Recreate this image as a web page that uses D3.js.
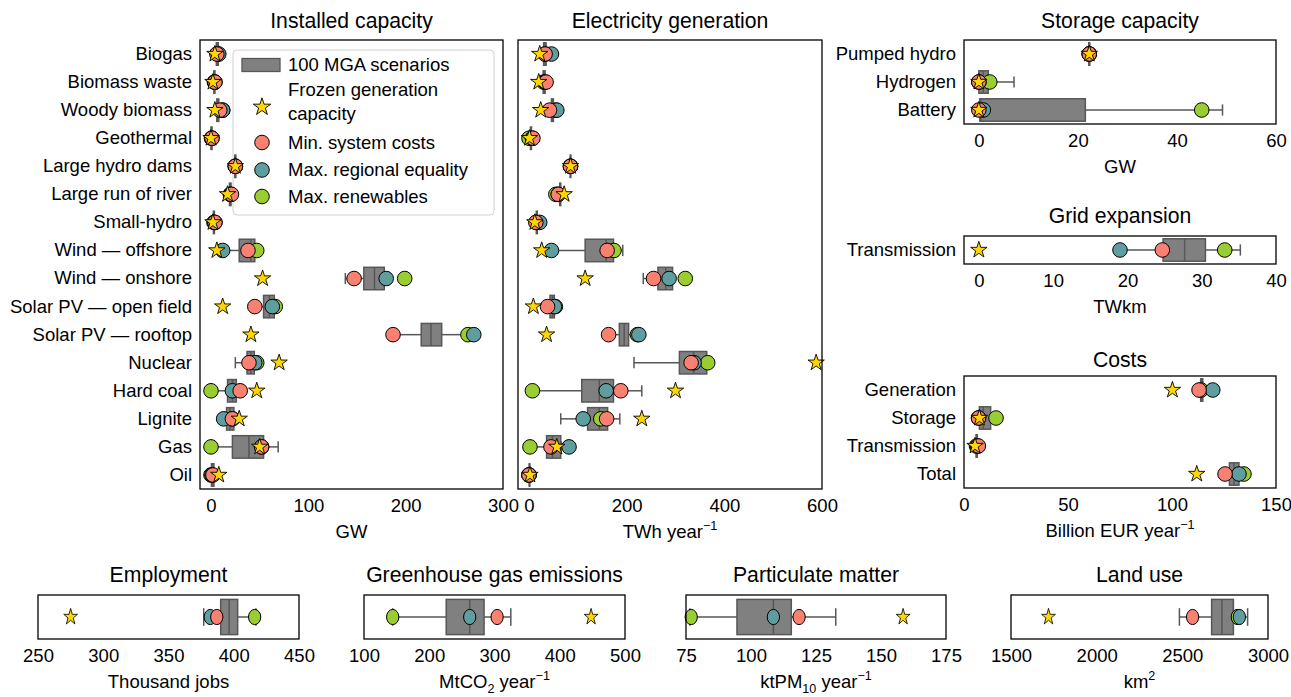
<!DOCTYPE html>
<html><head><meta charset="utf-8">
<script src="https://cdn.jsdelivr.net/npm/d3@7"></script>
<style>
body{margin:0;background:#fff}
text{font-family:"Liberation Sans",Arial,Helvetica,sans-serif;fill:#000}
</style>
</head><body><svg id="c" width="1291" height="697"></svg>
<script>
// ---------------- DATA ----------------
// box arrays: [whisker low, q1, median, q3, whisker high]
const capCategories = ["Biogas","Biomass waste","Woody biomass","Geothermal","Large hydro dams","Large run of river","Small-hydro","Wind — offshore","Wind — onshore","Solar PV — open field","Solar PV — rooftop","Nuclear","Hard coal","Lignite","Gas","Oil"];
const capBox = [[5,5.5,6.5,7.5,8],[2,3,3.5,4,5],[5,6,7,8,10],[0,0,0.5,1,1.5],[24,24.5,25,25.5,26],[18,19,20,20.5,21],[2,2.5,3,3.5,4],[12,29,41,45,45],[138,157,168,178,180],[45,54,60,65,66],[187,216,226,237,264],[25,37,41,44.5,45],[0,17,22,26,30],[13,16,19.5,23.5,24],[0,22,39,54,69],[0,0.5,1.5,3,4]];
const capFrozen = [4,2,4,0,25,17,2,6,53,12,41,70,47,29,50,8];
const capMinCost = [6,4,9,1,25,21,4,38,147,45,187,39,30,22,52,2];
const capMaxEquality = [8,4,12,1,25,20,4,12,180,63,270,45,22,13,52,1];
const capMaxRenewables = [7,3.5,12,0.5,25,20,3,47,199,66,264,47,0,22,0,0];

const genBox = [[28,30,33,35,38],[28,29,31,33,35],[45,46,48,50,52],[2,3,4,5,6],[84,84.5,85,85.5,86],[62,63,64,65,66],[14,15,16,17,18],[46,115,158,173,192],[234,264,280,294,296],[38,43,48,52,53],[163,185,195,204,225],[215,308,337,364,366],[7,108,144,173,231],[65,120,144,161,186],[2,36,48,65,66],[0,0.5,1,1.5,2]];
const genFrozen = [22,20,24,1,85,72,12,26,115,9,36,588,300,231,57,2];
const genMinCost = [33,35,42,8,85,60,14,160,255,38,163,332,188,159,45,0];
const genMaxEquality = [46,33,57,7,85,60,22,46,287,52,225,338,158,111,82,0];
const genMaxRenewables = [33,30,55,0,85,55,16,174,320,54,222,366,7,147,2,0];

const stoCategories = ["Pumped hydro","Hydrogen","Battery"];
const stoBox = [[22.2,22.2,22.3,22.4,22.4],[0,0,0.9,1.9,7.1],[0,0.2,0.4,21.5,49.2]];
const stoFrozen = [22.3,0,0];
const stoMinCost = [22.3,0,0];
const stoMaxEquality = [22.3,0,0.9];
const stoMaxRenewables = [22.3,2.2,45];

const gridCategories = ["Transmission"];
const gridBox = [[19,24.8,27.7,30.5,35.2]];
const gridFrozen = [0];
const gridMinCost = [24.7];
const gridMaxEquality = [19];
const gridMaxRenewables = [33.1];

const costCategories = ["Generation","Storage","Transmission","Total"];
const costBox = [[113.5,113.8,114.3,114.8,115],[7.4,7.4,9.3,12.8,13],[5.5,5.8,6.1,6.4,6.7],[125.5,127.6,129.8,132.2,134.6]];
const costFrozen = [100.2,7.4,5.3,111.9];
const costMinCost = [113,7,6.9,125.5];
const costMaxEquality = [119.6,7,6.5,132.2];
const costMaxRenewables = [114,15.4,6,134.6];

const empBox = [[377,390,396.5,403,417]];
const empFrozen = [275], empMinCost = [387], empMaxEquality = [382], empMaxRenewables = [416];
const ghgBox = [[144,226,262,284,325]];
const ghgFrozen = [448], ghgMinCost = [304], ghgMaxEquality = [262], ghgMaxRenewables = [144];
const pmBox = [[76.5,94.6,108.6,115.5,132.6]];
const pmFrozen = [158.5], pmMinCost = [118.5], pmMaxEquality = [108.6], pmMaxRenewables = [77];
const landBox = [[2483,2671,2731,2798,2881]];
const landFrozen = [1719], landMinCost = [2560], landMaxEquality = [2833], landMaxRenewables = [2821];

const capTicks = [0,100,200,300];
const genTicks = [0,200,400,600];
const stoTicks = [0,20,40,60];
const gridTicks = [0,10,20,30,40];
const costTicks = [0,50,100,150];
const empTicks = [250,300,350,400,450];
const ghgTicks = [100,200,300,400,500];
const pmTicks = [75,100,125,150,175];
const landTicks = [1500,2000,2500,3000];

const legendLabels = ["100 MGA scenarios",["Frozen generation","capacity"],"Min. system costs","Max. regional equality","Max. renewables"];

// ---------------- STYLE ----------------
const C = {box:"#808080", boxEdge:"#575757", minc:"#FA8072", eq:"#5F9EA0", ren:"#9ACD32", star:"#FFD700"};
const FS_TICK = 18.5, FS_TITLE = 21.2;

const panels = [
  {title:"Installed capacity", cats:capCategories, box:capBox, frozen:capFrozen, minc:capMinCost, eq:capMaxEquality, ren:capMaxRenewables,
   domain:[-11.3,300], ticks:capTicks, label:[["GW"]], x0:200,x1:503,y0:40,y1:489, titleY:28, showY:true, legend:true},
  {title:"Electricity generation", cats:capCategories, box:genBox, frozen:genFrozen, minc:genMinCost, eq:genMaxEquality, ren:genMaxRenewables,
   domain:[-22.5,600], ticks:genTicks, label:[["TWh year"],["−1","sup"]], x0:518,x1:822,y0:40,y1:489, titleY:28, showY:false},
  {title:"Storage capacity", cats:stoCategories, box:stoBox, frozen:stoFrozen, minc:stoMinCost, eq:stoMaxEquality, ren:stoMaxRenewables,
   domain:[-3,60], ticks:stoTicks, label:[["GW"]], x0:964,x1:1276,y0:40,y1:124, titleY:28, showY:true},
  {title:"Grid expansion", cats:gridCategories, box:gridBox, frozen:gridFrozen, minc:gridMinCost, eq:gridMaxEquality, ren:gridMaxRenewables,
   domain:[-2,40], ticks:gridTicks, label:[["TWkm"]], x0:964,x1:1276,y0:236,y1:264, titleY:223, showY:true},
  {title:"Costs", cats:costCategories, box:costBox, frozen:costFrozen, minc:costMinCost, eq:costMaxEquality, ren:costMaxRenewables,
   domain:[0,150], ticks:costTicks, label:[["Billion EUR year"],["−1","sup"]], x0:964,x1:1276,y0:376,y1:488, titleY:367, showY:true},
  {title:"Employment", cats:[""], box:empBox, frozen:empFrozen, minc:empMinCost, eq:empMaxEquality, ren:empMaxRenewables,
   domain:[250,450], ticks:empTicks, label:[["Thousand jobs"]], x0:38,x1:299,y0:595,y1:639, titleY:582, showY:false, sx:0.84},
  {title:"Greenhouse gas emissions", cats:[""], box:ghgBox, frozen:ghgFrozen, minc:ghgMinCost, eq:ghgMaxEquality, ren:ghgMaxRenewables,
   domain:[100,500], ticks:ghgTicks, label:[["MtCO"],["2","sub"],[" year"],["−1","sup"]], x0:364,x1:625,y0:595,y1:639, titleY:582, showY:false, sx:0.84},
  {title:"Particulate matter", cats:[""], box:pmBox, frozen:pmFrozen, minc:pmMinCost, eq:pmMaxEquality, ren:pmMaxRenewables,
   domain:[75,175], ticks:pmTicks, label:[["ktPM"],["10","sub"],[" year"],["−1","sup"]], x0:686,x1:946,y0:595,y1:639, titleY:582, showY:false, sx:0.84},
  {title:"Land use", cats:[""], box:landBox, frozen:landFrozen, minc:landMinCost, eq:landMaxEquality, ren:landMaxRenewables,
   domain:[1500,3000], ticks:landTicks, label:[["km"],["2","sup"]], x0:1011,x1:1268,y0:595,y1:639, titleY:582, showY:false, sx:0.84}
];

function starPath(R){
  const r = R*0.382, pts=[];
  for(let k=0;k<10;k++){
    const a = -Math.PI/2 + k*Math.PI/5, rr = k%2===0?R:r;
    pts.push([rr*Math.cos(a), rr*Math.sin(a)]);
  }
  return "M"+pts.map(p=>p[0].toFixed(2)+","+p[1].toFixed(2)).join("L")+"Z";
}

const svg = d3.select("#c");

function addSegments(textSel, segs, fs){
  let shift = 0;
  segs.forEach(s=>{
    const t = textSel.append("tspan").text(s[0]);
    let target = 0, size = fs;
    if(s[1]==="sup"){ target = -0.42*fs; size = fs*0.68; }
    if(s[1]==="sub"){ target = 0.25*fs; size = fs*0.68; }
    t.attr("dy", target-shift).style("font-size", size+"px");
    shift = target;
  });
}

panels.forEach(p=>{
  const g = svg.append("g");
  const x = d3.scaleLinear().domain(p.domain).range([p.x0,p.x1]);
  const y = d3.scaleBand().domain(p.cats).range([p.y0,p.y1]).padding(0);
  const bw = y.bandwidth(), bh = bw*0.8;
  const cy = i => y(p.cats[i]) + bw/2;
  const sx = p.sx || 1;

  // title
  g.append("text").attr("x",(p.x0+p.x1)/2).attr("y",p.titleY).attr("text-anchor","middle")
    .style("font-size",FS_TITLE+"px").text(p.title);

  // legend (drawn beneath the markers)
  if(p.legend){
    const L = g.append("g");
    L.append("rect").attr("x",233).attr("y",50).attr("width",261).attr("height",165).attr("rx",4)
      .attr("fill","#fff").attr("fill-opacity",0.85).attr("stroke","#d0d0d0").attr("stroke-width",1);
    L.append("rect").attr("x",242).attr("y",58.5).attr("width",38).attr("height",13)
      .attr("fill",C.box).attr("stroke",C.boxEdge).attr("stroke-width",1.3);
    L.append("path").attr("d",starPath(9.2)).attr("transform","translate(262,107)")
      .attr("fill",C.star).attr("stroke","#000").attr("stroke-width",0.9);
    [[C.minc,142.5],[C.eq,170],[C.ren,196.5]].forEach(([col,yy])=>{
      L.append("circle").attr("cx",262).attr("cy",yy).attr("r",7.3).attr("fill",col).attr("stroke","#000").attr("stroke-width",1);
    });
    const ty = [71,[96,120],148.5,176,202.5];
    legendLabels.forEach((lab,i)=>{
      if(Array.isArray(lab)){
        lab.forEach((s,j)=>L.append("text").attr("x",288).attr("y",ty[i][j]).style("font-size",FS_TICK+"px").text(s));
      } else {
        L.append("text").attr("x",288).attr("y",ty[i]).style("font-size",FS_TICK+"px").text(lab);
      }
    });
  }

  // boxes
  p.box.forEach((b,i)=>{
    const c = cy(i);
    const [lo,q1,md,q3,hi] = b;
    g.append("line").attr("x1",x(lo)).attr("x2",x(q1)).attr("y1",c).attr("y2",c).attr("stroke",C.boxEdge).attr("stroke-width",1.5);
    g.append("line").attr("x1",x(q3)).attr("x2",x(hi)).attr("y1",c).attr("y2",c).attr("stroke",C.boxEdge).attr("stroke-width",1.5);
    [lo,hi].forEach(v=>g.append("line").attr("x1",x(v)).attr("x2",x(v)).attr("y1",c-bh/4).attr("y2",c+bh/4).attr("stroke",C.boxEdge).attr("stroke-width",1.5));
    g.append("rect").attr("x",x(q1)).attr("y",c-bh/2).attr("width",Math.max(x(q3)-x(q1),0.5)).attr("height",bh)
      .attr("fill",C.box).attr("stroke",C.boxEdge).attr("stroke-width",1.5);
    g.append("line").attr("x1",x(md)).attr("x2",x(md)).attr("y1",c-bh/2).attr("y2",c+bh/2).attr("stroke",C.boxEdge).attr("stroke-width",1.5);
  });

  // points
  const rx = 7.3*sx, ry = p.sx ? 7.6 : 7.3;
  [[p.ren,C.ren],[p.eq,C.eq],[p.minc,C.minc]].forEach(([arr,col])=>{
    g.selectAll(null).data(arr).enter().append("ellipse")
      .attr("cx",d=>x(d)).attr("cy",(d,i)=>cy(i)).attr("rx",rx).attr("ry",ry)
      .attr("fill",col).attr("stroke","#000").attr("stroke-width",1);
  });
  g.selectAll(null).data(p.frozen).enter().append("path")
    .attr("d",starPath(8.6))
    .attr("transform",(d,i)=>`translate(${x(d)},${cy(i)}) scale(${sx},1)`)
    .attr("fill",C.star).attr("stroke","#000").attr("stroke-width",0.9).attr("stroke-linejoin","miter");

  // frame
  g.append("rect").attr("x",p.x0).attr("y",p.y0).attr("width",p.x1-p.x0).attr("height",p.y1-p.y0)
    .attr("fill","none").attr("stroke","#000").attr("stroke-width",1.3);

  // x axis
  const ax = g.append("g").attr("transform",`translate(0,${p.y1})`)
    .call(d3.axisBottom(x).tickValues(p.ticks).tickSize(0).tickPadding(10).tickFormat(d3.format("d")));
  ax.select(".domain").remove();
  ax.selectAll("text").style("font-size",FS_TICK+"px").attr("fill","#000").style("font-family",'"Liberation Sans",Arial,sans-serif');
  const lt = g.append("text").attr("x",(p.x0+p.x1)/2).attr("y",p.y1+49).attr("text-anchor","middle").style("font-size",FS_TICK+"px");
  addSegments(lt,p.label,FS_TICK);

  // y axis
  if(p.showY){
    const ay = g.append("g").attr("transform",`translate(${p.x0},0)`)
      .call(d3.axisLeft(y).tickSize(0).tickPadding(8));
    ay.select(".domain").remove();
    ay.selectAll("text").style("font-size",FS_TICK+"px").attr("fill","#000").style("font-family",'"Liberation Sans",Arial,sans-serif');
  }
});
</script>
</body></html>
